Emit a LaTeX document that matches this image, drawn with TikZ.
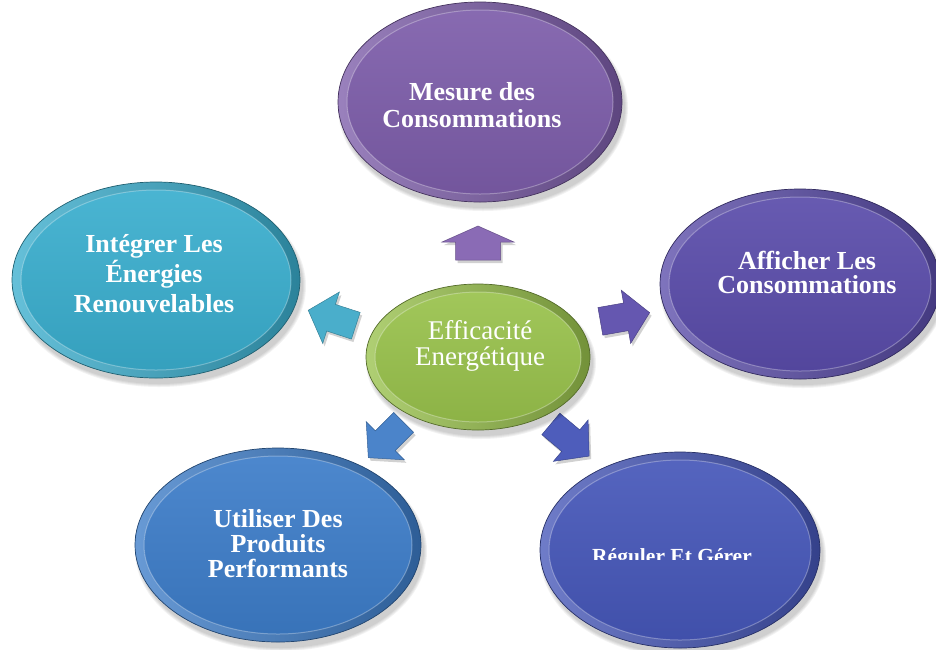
\documentclass[tikz,border=0pt]{standalone}
\usepackage{fontspec}
\setmainfont{Liberation Serif}
\usetikzlibrary{shapes.geometric}

\definecolor{cMesure}{HTML}{7D5DAA}
\definecolor{cAfficher}{HTML}{5A4CAA}
\definecolor{cReguler}{HTML}{4657B9}
\definecolor{cUtiliser}{HTML}{3D7DC9}
\definecolor{cIntegrer}{HTML}{3AAECE}
\definecolor{cCentre}{HTML}{99C24C}
\definecolor{aMesure}{HTML}{8A6BB5}
\definecolor{aAfficher}{HTML}{6557B0}
\definecolor{aReguler}{HTML}{4E5DBB}
\definecolor{aUtiliser}{HTML}{4B84CA}
\definecolor{aIntegrer}{HTML}{4AAECB}

\tikzset{
  bubbletext/.style={text=white, align=center, inner sep=0pt,
    font=\bfseries\fontsize{26}{27}\selectfont},
  centretext/.style={text=white, align=center, inner sep=0pt,
    font=\fontsize{27}{26}\selectfont},
}

% bevelled ellipse: name, x, y, x radius, y radius, colour
\newcommand\bubble[6]{%
  \foreach \s in {0,2,4,6}{\fill[black,opacity=.05] (#2+3,#3+6) ellipse ({#4+\s/2} and {#5+\s/2});}
  \node[ellipse, minimum width={2*#4pt}, minimum height={2*#5pt}, inner sep=0pt, outer sep=0pt,
        left color=#6!78!white, right color=#6!75!black, draw=#6!55!black, line width=.7pt] (#1) at (#2,#3) {};
  \shade[top color=#6!92!white, bottom color=#6!92!black] (#2,#3) ellipse ({#4-9} and {#5-8});
  \draw[white, opacity=.3, line width=1pt] (#2,#3) ellipse ({#4-9} and {#5-8});
}

% block arrow: x, y, angle, colour, length, head width, body width, head length
\newcommand\arrowoutline[4]{%
  ({-#1/2},{-#3/2}) -- ({#1/2-#4},{-#3/2}) -- ({#1/2-#4},{-#2/2}) -- ({#1/2},0)
  -- ({#1/2-#4},{#2/2}) -- ({#1/2-#4},{#3/2}) -- ({-#1/2},{#3/2}) -- cycle}
\newcommand\blockarrow[8]{%
  \begin{scope}[shift={(#1+2,#2+3)},rotate=#3]
    \fill[black,opacity=.18] \arrowoutline{#5}{#6}{#7}{#8};
  \end{scope}
  \begin{scope}[shift={(#1,#2)},rotate=#3]
    \fill[#4, draw=#4!75!black, line width=.5pt, line join=miter] \arrowoutline{#5}{#6}{#7}{#8};
  \end{scope}}

\begin{document}
\begin{tikzpicture}[x=1pt,y=-1pt]
  \useasboundingbox (0,0) rectangle (936,649);
  \clip (0,0) rectangle (936,649);

  % outer ellipses
  \bubble{mesure}{480}{102}{142}{100}{cMesure}
  \bubble{integrer}{156}{280}{144}{98}{cIntegrer}
  \bubble{afficher}{800}{284}{140}{95}{cAfficher}
  \bubble{utiliser}{278}{545}{143}{97}{cUtiliser}
  \bubble{reguler}{680}{550}{140}{98}{cReguler}

  % arrows pointing outwards from the centre
  \blockarrow{478}{243}{90}{aMesure}{34}{72}{45}{16}
  \blockarrow{625}{317}{10}{aAfficher}{50}{54}{28}{24}
  \blockarrow{332}{318}{162}{aIntegrer}{50}{54}{28}{24}
  \blockarrow{386}{440}{225}{aUtiliser}{50}{54}{28}{24}
  \blockarrow{570}{440}{-40}{aReguler}{50}{54}{28}{24}

  % centre ellipse
  \bubble{centre}{478}{357}{112}{73}{cCentre}

  % labels
  \node[bubbletext] (t-mesure) at (472,105) {Mesure des\\Consommations};
  \node[bubbletext, font=\bfseries\fontsize{26}{30}\selectfont] (t-integrer) at (154,274) {Intégrer Les\\Énergies\\Renouvelables};
  \node[bubbletext, font=\bfseries\fontsize{26}{24}\selectfont] (t-afficher) at (807,272) {Afficher Les\\Consommations};
  \node[bubbletext, font=\bfseries\fontsize{26}{25}\selectfont] (t-utiliser) at (278,544) {Utiliser Des\\Produits\\Performants};
  \node[centretext] (t-centre) at (480,346) {Efficacité\\Energétique};
  \begin{scope}
    \clip (540,450) rectangle (820,559);
    \node[bubbletext, font=\bfseries\fontsize{21.5}{23}\selectfont, anchor=base] (t-reguler) at (672,563) {Réguler Et Gérer};
  \end{scope}
\end{tikzpicture}
\end{document}
